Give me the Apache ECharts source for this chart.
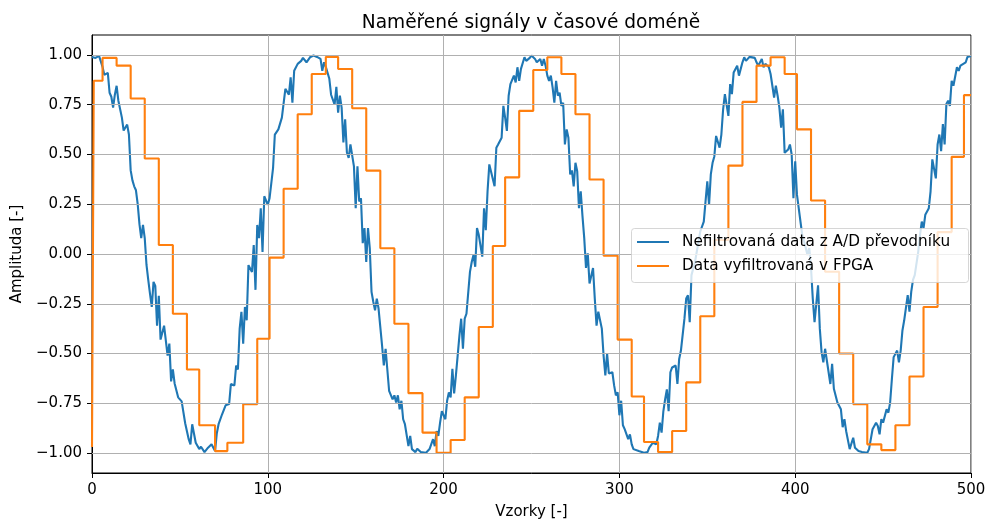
<!DOCTYPE html>
<html>
<head>
<meta charset="utf-8">
<script src="https://cdn.jsdelivr.net/npm/echarts@6/dist/echarts.min.js"></script>
<style>html,body{margin:0;padding:0;background:#fff}#c{width:987px;height:520px}</style>
</head>
<body>
<div id="c"></div>
<script>
const titleText = 'Naměřené signály v časové doméně';
const xName = 'Vzorky [-]';
const yName = 'Amplituda [-]';
const seriesNames = ['Nefiltrovaná data z A/D převodníku', 'Data vyfiltrovaná v FPGA'];
const yTicks = [-1, -0.75, -0.5, -0.25, 0, 0.25, 0.5, 0.75, 1];

const blueX = [0,1,2,3,4,5,6,7,8,9,10,11,12,13,14,15,17,18,19,20,21,22,23,24,25,26,27,28,29,30,31,32,33,34,35,36,37,38,39,41,43,44,45,46,47,49,51,53,55,56,57,59,61,62,64,66,68,70,71,72,74,76,78,79,81,82,83,84,85,86,87,88,89,91,92,93,94,95,96,97,98,100,101,103,104,106,108,109,110,112,113,114,115,117,119,120,122,124,126,128,130,131,132,133,135,136,138,139,140,141,142,143,144,145,146,147,149,150,151,152,153,154,155,156,157,158,159,160,161,162,163,165,166,167,168,169,171,172,173,174,175,176,177,178,180,181,182,184,185,187,190,192,194,195,196,197,198,199,201,202,203,204,205,206,207,208,209,210,211,212,213,214,215,216,217,218,219,220,222,223,224,225,226,227,229,230,231,233,234,235,236,237,238,240,241,242,243,244,246,247,249,250,252,253,255,256,257,258,259,260,261,262,263,264,265,266,267,268,269,270,271,272,273,274,275,276,277,278,279,280,281,282,283,284,285,286,287,288,289,290,291,292,293,294,296,297,298,299,300,301,302,303,305,306,307,308,311,314,316,317,319,321,322,323,324,325,326,327,328,329,330,332,333,334,335,337,338,339,340,341,342,343,345,346,348,349,350,351,352,353,354,355,356,357,358,359,360,361,362,363,364,365,367,368,370,371,372,374,375,377,378,379,381,382,383,385,386,387,388,389,390,391,392,393,394,396,397,398,399,400,401,403,404,406,407,408,409,410,411,413,414,415,416,417,419,420,421,422,424,425,426,427,428,429,430,431,433,434,436,438,441,442,443,444,446,447,448,449,450,452,453,454,455,456,457,458,459,460,461,462,464,465,466,467,468,469,470,471,472,473,474,476,477,478,479,480,481,482,483,484,485,486,487,488,489,490,492,493,494,495,497,498,499,500];
const blueY = [0.99,0.99,0.985,0.99,0.995,0.985,0.94,0.90,0.90,0.91,0.81,0.79,0.735,0.80,0.845,0.77,0.685,0.62,0.61,0.65,0.60,0.42,0.37,0.34,0.32,0.25,0.15,0.08,0.146,0.08,-0.055,-0.13,-0.20,-0.266,-0.14,-0.16,-0.36,-0.21,-0.43,-0.36,-0.51,-0.45,-0.64,-0.58,-0.65,-0.72,-0.74,-0.85,-0.93,-0.956,-0.855,-0.948,-0.98,-0.968,-0.995,-0.973,-0.956,-0.99,-0.90,-0.855,-0.805,-0.76,-0.754,-0.653,-0.66,-0.56,-0.58,-0.375,-0.29,-0.45,-0.266,-0.333,-0.056,-0.09,0.045,-0.18,0.146,0.08,0.23,0.01,0.29,0.247,0.28,0.433,0.60,0.626,0.685,0.694,0.83,0.80,0.887,0.76,0.92,0.955,0.97,0.985,0.963,0.988,0.997,0.99,0.98,0.92,0.963,0.94,0.88,0.80,0.75,0.84,0.71,0.795,0.735,0.56,0.677,0.51,0.483,0.55,0.44,0.23,0.44,0.264,0.28,0.054,0.13,-0.04,0.13,0.03,-0.19,-0.24,-0.283,-0.224,-0.274,-0.46,-0.56,-0.476,-0.468,-0.687,-0.73,-0.71,-0.746,-0.71,-0.78,-0.737,-0.83,-0.855,-0.965,-0.914,-0.98,-0.995,-0.978,-0.995,-0.998,-0.98,-0.93,-0.965,-0.89,-0.914,-0.847,-0.79,-0.83,-0.737,-0.695,-0.72,-0.577,-0.70,-0.61,-0.51,-0.41,-0.325,-0.476,-0.325,-0.30,-0.30,-0.09,-0.04,-0.005,-0.064,0.13,0.096,-0.013,0.23,0.12,0.315,0.45,0.458,0.34,0.534,0.55,0.584,0.744,0.685,0.618,0.795,0.853,0.896,0.862,0.938,0.87,0.93,0.988,0.97,0.985,0.997,0.98,0.963,0.98,0.946,0.98,0.946,0.896,0.87,0.896,0.837,0.76,0.87,0.795,0.81,0.744,0.76,0.55,0.626,0.584,0.40,0.42,0.34,0.458,0.416,0.23,0.315,0.19,0.08,-0.07,0.003,-0.148,-0.14,-0.07,-0.224,-0.36,-0.29,-0.29,-0.375,-0.51,-0.61,-0.50,-0.60,-0.594,-0.66,-0.71,-0.695,-0.81,-0.737,-0.86,-0.88,-0.93,-0.906,-0.956,-0.98,-0.99,-0.998,-0.995,-0.973,-0.948,-0.956,-0.914,-0.847,-0.897,-0.79,-0.73,-0.68,-0.79,-0.594,-0.57,-0.56,-0.653,-0.527,-0.485,-0.325,-0.224,-0.207,-0.342,-0.106,-0.10,-0.04,0.062,0.113,0.163,0.264,0.365,0.247,0.40,0.458,0.49,0.593,0.584,0.534,0.60,0.727,0.803,0.81,0.694,0.853,0.803,0.912,0.946,0.896,0.963,0.988,0.97,0.99,0.997,0.985,0.963,0.946,0.98,0.938,0.955,0.938,0.904,0.896,0.786,0.845,0.795,0.735,0.635,0.727,0.508,0.525,0.55,0.50,0.28,0.466,0.298,0.163,0.096,0.03,-0.005,0.03,-0.07,-0.224,-0.342,-0.157,-0.375,-0.493,-0.544,-0.476,-0.594,-0.653,-0.552,-0.677,-0.746,-0.737,-0.78,-0.87,-0.83,-0.89,-0.897,-0.98,-0.923,-0.973,-0.99,-0.995,-0.998,-0.98,-0.99,-0.88,-0.847,-0.864,-0.906,-0.83,-0.847,-0.78,-0.797,-0.746,-0.628,-0.518,-0.527,-0.485,-0.544,-0.485,-0.384,-0.333,-0.207,-0.29,-0.19,-0.13,-0.106,-0.114,0.012,0.096,0.163,0.13,0.197,0.23,0.315,0.475,0.483,0.38,0.55,0.60,0.517,0.652,0.55,0.753,0.77,0.744,0.87,0.845,0.938,0.92,0.946,0.938,0.963,0.99,0.997,0.995];

const orangeStart = [0,1,6,14,22,30,38,46,54,61,70,77,86,94,101,109,117,125,133,140,148,156,164,172,180,188,196,204,212,220,228,235,243,251,259,267,275,283,291,299,307,314,322,330,338,346,354,362,370,378,386,394,401,409,417,425,433,441,449,457,465,473,481,489,496];
const orangeLevel = [-0.97,0.87,0.985,0.946,0.781,0.48,0.045,-0.30,-0.58,-0.86,-0.99,-0.948,-0.754,-0.426,-0.018,0.328,0.702,0.904,0.99,0.929,0.732,0.419,0.029,-0.35,-0.699,-0.897,-0.998,-0.934,-0.72,-0.367,0.04,0.385,0.719,0.924,0.988,0.904,0.702,0.374,-0.008,-0.43,-0.716,-0.944,-0.995,-0.889,-0.645,-0.313,0.07,0.444,0.764,0.946,0.988,0.904,0.626,0.269,-0.089,-0.50,-0.754,-0.956,-0.985,-0.86,-0.615,-0.266,0.11,0.488,0.798];
const xEnd = 500;

const blueData = blueX.map((x, i) => [x, blueY[i]]);
const orangeData = orangeStart.map((x, i) => [x, orangeLevel[i]]);
orangeData.push([xEnd, orangeLevel[orangeLevel.length - 1]]);

const FONT = 'DejaVu Sans';
const fmtY = v => (v < 0 ? '\u2212' : '') + Math.abs(v).toFixed(2);

const chart = echarts.init(document.getElementById('c'), null, {renderer: 'canvas'});
chart.setOption({
  animation: false,
  backgroundColor: '#ffffff',
  title: {
    text: titleText,
    left: 526, top: 9, textAlign: 'center',
    textStyle: {fontFamily: FONT, fontSize: 18.6, fontWeight: 'normal', color: '#000'}
  },
  grid: {left: 92, right: 16, top: 35, bottom: 47, containLabel: false, outerBoundsMode: 'none',
         show: true, borderColor: '#000', borderWidth: 1, backgroundColor: 'transparent'},
  graphic: [{
    type: 'rect', left: 631, top: 228, z: 90, zlevel: 0, silent: true,
    shape: {width: 337, height: 54, r: 3},
    style: {fill: '#ffffff', opacity: 0.8, stroke: '#cccccc', lineWidth: 1}
  }],
  legend: {
    orient: 'vertical', left: 631, top: 228, z: 100,
    data: seriesNames,
    icon: 'rect', itemWidth: 32, itemHeight: 2, itemGap: 8,
    backgroundColor: 'transparent', borderWidth: 0,
    padding: [6, 13, 8, 6],
    textStyle: {fontFamily: FONT, fontSize: 15.3, lineHeight: 16, color: '#000', padding: [0, 0, 0, 8]}
  },
  xAxis: {
    type: 'value', min: 0, max: 500, interval: 100,
    name: xName, nameLocation: 'middle', nameGap: 32,
    nameTextStyle: {fontFamily: FONT, fontSize: 15, color: '#000'},
    axisLine: {show: true, onZero: false, lineStyle: {color: '#000', width: 1}},
    axisTick: {show: true, inside: false, length: 5, lineStyle: {color: '#000', width: 1}},
    axisLabel: {margin: 10, fontFamily: FONT, fontSize: 15, color: '#000'},
    splitLine: {show: true, lineStyle: {color: '#b0b0b0', width: 1}}
  },
  yAxis: {
    type: 'value', min: -1.1, max: 1.1,
    name: yName, nameLocation: 'middle', nameGap: 67,
    nameTextStyle: {fontFamily: FONT, fontSize: 15, color: '#000'},
    axisLine: {show: true, onZero: false, lineStyle: {color: '#000', width: 1}},
    axisTick: {show: true, inside: false, length: 5, customValues: yTicks, lineStyle: {color: '#000', width: 1}},
    axisLabel: {margin: 10, fontFamily: FONT, fontSize: 15, color: '#000', customValues: yTicks, formatter: fmtY},
    splitLine: {show: false}
  },
  series: [
    {
      name: 'grid', type: 'line', data: [], silent: true, z: 1,
      markLine: {
        silent: true, symbol: 'none', animation: false,
        label: {show: false},
        lineStyle: {color: '#b0b0b0', width: 1, type: 'solid'},
        data: yTicks.map(v => ({yAxis: v}))
      }
    },
    {
      name: seriesNames[0], type: 'line', data: blueData, showSymbol: false, symbol: 'none', z: 2,
      lineStyle: {color: '#1f77b4', width: 2.1}, itemStyle: {color: '#1f77b4'}
    },
    {
      name: seriesNames[1], type: 'line', data: orangeData, step: 'end', showSymbol: false, symbol: 'none', z: 3,
      lineStyle: {color: '#ff7f0e', width: 2.1}, itemStyle: {color: '#ff7f0e'}
    }
  ]
});
</script>
</body>
</html>
